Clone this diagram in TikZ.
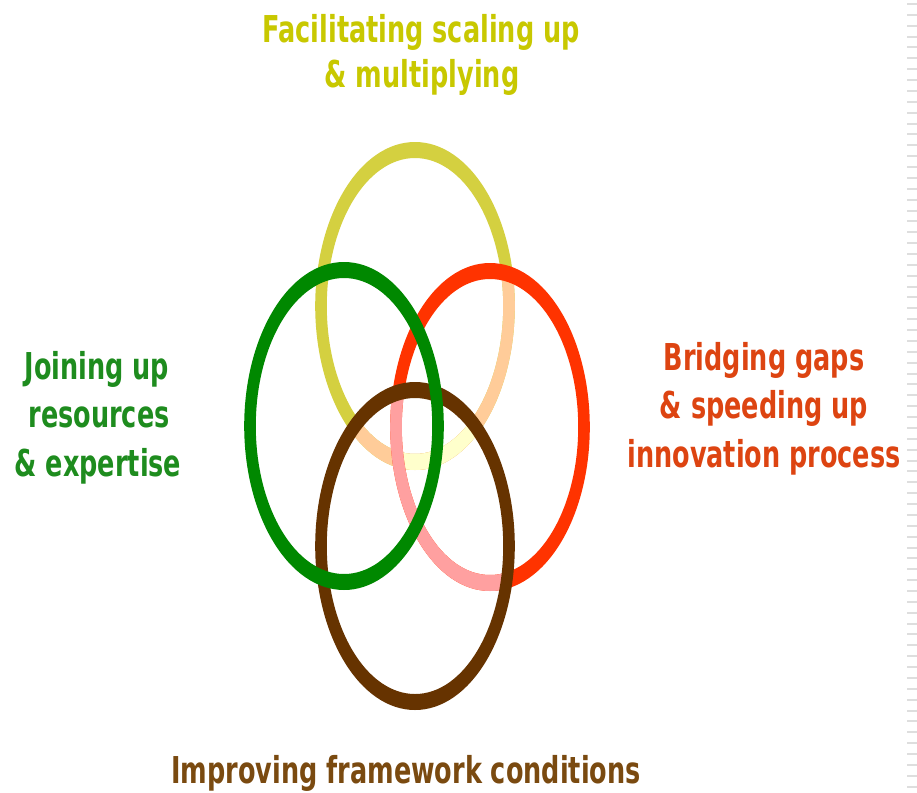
\documentclass[tikz,border=0pt]{standalone}
\usepackage{fontspec}
\newfontfamily\lblfont[FakeStretch=0.69]{DejaVu Sans}
\definecolor{ylw}{HTML}{D4D040}
\definecolor{peach}{HTML}{FFCC99}
\definecolor{paleylw}{HTML}{FFFFCC}
\definecolor{grn}{HTML}{008800}
\definecolor{rd}{HTML}{FF3300}
\definecolor{pnk}{HTML}{FFA0A0}
\definecolor{brn}{HTML}{663300}
\definecolor{tylw}{HTML}{C8C800}
\definecolor{tgrn}{HTML}{1E8C1E}
\definecolor{trd}{HTML}{DD4411}
\definecolor{tbrn}{HTML}{7A4A10}
\newcommand{\myring}[3]{\fill[#3, even odd rule] (#1,#2) ellipse [x radius=99.8, y radius=164] (#1,#2) ellipse [x radius=88.2, y radius=148];}
\newcommand{\myinside}[2]{(#1,#2) ellipse [x radius=94, y radius=156]}
\begin{document}
\begin{tikzpicture}[x=1pt,y=-1pt,
  lbl/.style={anchor=base, inner sep=0pt, font=\lblfont\bfseries\fontsize{37}{46}\selectfont}]
\useasboundingbox (0,0) rectangle (917,792);
\fill[white] (0,0) rectangle (917,792);
% right edge ticks
\draw[black!13, line width=10pt, dash pattern=on 2pt off 8.87pt] (911.7,3) -- (911.7,792);
% yellow ring with faded parts
\myring{415}{306}{ylw}
\begin{scope}
  \clip \myinside{490}{427};
  \myring{415}{306}{peach}
\end{scope}
\begin{scope}
  \clip \myinside{415}{546};
  \myring{415}{306}{peach}
\end{scope}
\begin{scope}
  \clip \myinside{490}{427};
  \clip \myinside{415}{546};
  \myring{415}{306}{paleylw}
\end{scope}
% red ring, pink inside brown
\myring{490}{427}{rd}
\begin{scope}
  \clip \myinside{415}{546};
  \myring{490}{427}{pnk}
\end{scope}
% brown ring
\myring{415}{546}{brn}
% green ring
\myring{344}{426}{grn}
% labels
\node[lbl, text=tylw] (t1) at (421,42) {Facilitating scaling up};
\node[lbl, text=tylw] (t2) at (422,87) {\& multiplying};
\node[lbl, text=tgrn] (l1) at (97,379) {Joining up};
\node[lbl, text=tgrn] (l2) at (99,427) {resources};
\node[lbl, text=tgrn] (l3) at (98,476) {\& expertise};
\node[lbl, text=trd] (r1) at (764,370) {Bridging gaps};
\node[lbl, text=trd] (r2) at (764,418) {\& speeding up};
\node[lbl, text=trd] (r3) at (764,467) {innovation process};
\node[lbl, text=tbrn] (b1) at (406,783) {Improving framework conditions};
\end{tikzpicture}
\end{document}
